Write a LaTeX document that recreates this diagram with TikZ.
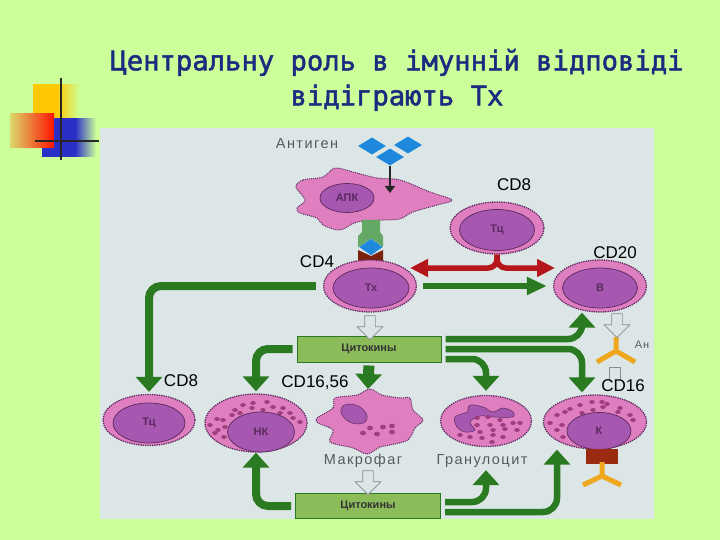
\documentclass[tikz,border=0pt]{standalone}
\usepackage{fontspec}
\setmainfont{Liberation Sans}
\newfontfamily\titlefont[FakeBold=1.8]{DejaVu Sans Mono}
\newfontfamily\capfont[LetterSpace=10]{Liberation Sans}
\usetikzlibrary{arrows.meta, calc, positioning, shapes.geometric, shapes.arrows}

\definecolor{slidebg}{HTML}{CCFF99}
\definecolor{panelbg}{HTML}{DCE6E6}
\definecolor{navy}{HTML}{1C2A80}
\definecolor{cellpink}{HTML}{E07FC0}
\definecolor{nucpurple}{HTML}{A657B0}
\definecolor{rimdark}{HTML}{5A2A5E}
\definecolor{granule}{HTML}{A03E80}
\definecolor{grn}{HTML}{2A7A22}
\definecolor{boxgrn}{HTML}{8CBB5A}
\definecolor{recgrn}{HTML}{64A866}
\definecolor{redarr}{HTML}{B5161A}
\definecolor{bluediam}{HTML}{1E88DC}
\definecolor{orng}{HTML}{EFA81E}
\definecolor{brownred}{HTML}{9A2A10}
\definecolor{sqyellow}{HTML}{FFC800}
\definecolor{sqblue}{HTML}{2A2FC8}

\begin{document}
\begin{tikzpicture}
[
	x=1pt,y=-1pt,
	cell/.style={ellipse,draw=rimdark,densely dotted,line width=1.3,fill=cellpink,inner sep=0},
	nuc/.style={ellipse,draw=rimdark,line width=0.7,fill=nucpurple,inner sep=0,font=\fontsize{11}{11}\selectfont\bfseries,text=rimdark},
	cdlab/.style={font=\fontsize{17}{17}\selectfont},
	caption/.style={font=\capfont\fontsize{14.5}{14.5}\selectfont,text=black!65},
	cyto/.style={rectangle,draw=grn,line width=1,fill=boxgrn,minimum width=144,minimum height=26,font=\fontsize{11}{11}\selectfont\bfseries,text=black!80},
	gr/.style={draw=grn,line width=8,rounded corners=12,-{Triangle[width=26,length=15]}},
	grflat/.style={draw=grn,line width=6.5,rounded corners=14,-{Triangle[width=26,length=15]}},
	grthin/.style={draw=grn,line width=6,-{Triangle[width=17,length=20]}},
	rd/.style={draw=redarr,line width=5.5,rounded corners=9,-{Triangle[width=17,length=18]}},
	hollow/.style={single arrow,draw=black!45,fill=panelbg,shape border rotate=270,inner sep=5,minimum height=24,minimum width=25,single arrow head extend=7.5,line width=0.7},
	diam/.style={diamond,fill=bluediam,inner sep=0,minimum width=28,minimum height=17},
	ab/.style={draw=orng,line width=5,line join=miter},
	gran/.style={fill=granule}
]

\useasboundingbox (0,0) rectangle (720,540);
\fill[slidebg] (0,0) rectangle (720,540);

% corner squares
\shade[left color=sqyellow,right color=slidebg,middle color=sqyellow] (33,85) rectangle (80,120);
\shade[left color=slidebg!70!orange,right color=red!85!orange] (10,114) rectangle (54,148);
\shade[left color=sqblue,right color=slidebg,middle color=sqblue] (54,119) rectangle (96,157);
\fill[sqblue] (42,148) rectangle (60,157);
\draw[line width=2,black!85] (61,78) -- (61,160);
\draw[line width=2,black!85] (35,141) -- (99,141);

\node[align=center,text=navy,font=\titlefont\fontsize{27.2}{35}\selectfont] (title) at (397,80) {Центральну роль в імунній відповіді\\відіграють Тх};

\fill[panelbg] (100,128) rectangle (654,519);

% antigen and APC
\node[caption] (antigen) at (307,144) {Антиген};
\node[diam] (ag1) at (372,146) {};
\node[diam] (ag2) at (408,145) {};
\node[diam] (ag3) at (390,157) {};

\draw[draw=rimdark,densely dotted,line width=1,fill=cellpink] plot[smooth cycle,tension=0.55] coordinates {(296,187) (303,180) (323,177) (335,168) (353,172) (377,178) (400,180) (430,192) (452,200) (437,205) (413,212) (400,219) (383,220) (357,222) (340,230) (323,225) (317,218) (300,213) (297,208) (305,200)};
\node[nuc,minimum width=54,minimum height=29] (apk) at (347,198) {АПК};
\coordinate (apkin) at (390,193);
\draw[line width=1.5,black!85,-{Triangle[width=10,length=7]}] (ag3.south) -- (apkin);

% receptor between APC and Tx
\fill[recgrn] (362,220) -- (380,220) -- (380,232) -- (383,236) -- (383,247) -- (358,247) -- (358,236) -- (362,232) -- cycle;
\fill[brownred!80!black] (358,262) -- (358,250) -- (371,256) -- (383,250) -- (383,262) -- cycle;
\node[diam,draw=white,densely dotted,minimum width=24,minimum height=17] (agtx) at (371,247) {};

% cells
\node[cell,minimum width=94,minimum height=52] (tc) at (497,228) {};
\node[nuc,minimum width=75,minimum height=41] (tcn) at (497,230) {Тц};
\node[cell,minimum width=93,minimum height=52] (tx) at (370,286) {};
\node[nuc,minimum width=76,minimum height=40] (txn) at (371,288) {Тх};
\node[cell,minimum width=93,minimum height=52] (vb) at (600,286) {};
\node[nuc,minimum width=75,minimum height=40] (vbn) at (600,288) {В};
\node[cell,minimum width=92,minimum height=51] (tcl) at (149,420) {};
\node[nuc,minimum width=72,minimum height=40] (tcln) at (149,423) {Тц};
\node[cell,minimum width=102,minimum height=58] (nk) at (256,423) {};
\node[cell,minimum width=91,minimum height=51] (grc) at (486,421) {};
\node[cell,minimum width=103,minimum height=54] (kc) at (595,422) {};

\foreach \gx/\gy in {217/419,210/425,223/420,232/415,243/405,253/403,267/402,240/413,252/408,263/410,273/407,283/408,280/413,290/413,293/418,300/422,218/430,225/427,215/433,224/437,235/410}
	\fill[gran] (\gx,\gy) ellipse (2.8 and 2);
\node[nuc,minimum width=67,minimum height=40] (nkn) at (261,432) {НК};

\foreach \gx/\gy in {570/409,580/405,592/402,582/413,593/410,607/404,620/408,618/412,633/420,630/415,565/412,557/415,550/423,562/425,557/430,563/437,603/407,602/402}
	\fill[gran] (\gx,\gy) ellipse (2.8 and 2);
\node[nuc,minimum width=64,minimum height=37] (kn) at (599,431) {К};

\fill[nucpurple,draw=rimdark,line width=0.5] plot[smooth cycle,tension=0.6] coordinates {(455,417) (467,412) (470,405) (483,407) (493,412) (503,408) (513,412) (512,417) (493,417) (480,416) (470,422) (475,430) (465,432) (457,427)};
\foreach \gx/\gy in {477/418,488/417,500/420,477/425,490/425,503/425,513/423,520/423,480/432,493/430,505/429,517/430,470/437,482/438,493/435,503/437,460/435,492/442}
	\fill[gran] (\gx,\gy) ellipse (2.8 and 2);

% macrophage
\draw[draw=rimdark,densely dotted,line width=1,fill=cellpink] plot[smooth cycle,tension=0.5] coordinates {(317,418) (333,408) (335,398) (357,395) (370,389) (382,395) (400,398) (410,398) (413,410) (423,420) (415,428) (408,440) (390,445) (380,447) (367,454) (353,448) (330,442) (333,430) (318,423)};
\fill[nucpurple,draw=rimdark,line width=0.5,rotate around={-25:(354,414)}] (354,414) ellipse (14 and 9);
\foreach \gx/\gy in {370/428,383/427,363/433,377/434,392/432,392/426}
	\fill[gran] (\gx,\gy) ellipse (3 and 2.4);
\coordinate (mf) at (368,389);
\node[caption] (mftxt) at (363,461) {Макрофаг};
\node[caption] (grtxt) at (482,461) {Гранулоцит};

% antibodies
\draw[ab] (616,337) -- (616,351) -- (597,362);
\draw[ab] (616,351) -- (635,362);
\node[caption,font=\capfont\fontsize{11}{11}\selectfont] (an) at (642,345) {Ан};
\fill[brownred] (586,449) rectangle (618,464);
\draw[ab] (602,462) -- (602,476) -- (583,485);
\draw[ab] (602,476) -- (621,485);

% cytokine boxes
\node[cyto] (cyt1) at (369,349) {Цитокины};
\node[cyto,minimum width=145,minimum height=25] (cyt2) at (368,506) {Цитокины};

% hollow arrows
\node[hollow] (h1) at (370,325) {};
\node[hollow] (h2) at (617,323) {};
\node[hollow] (h3) at (368,480) {};
\draw[line width=0.7,black!45] (609,380) -- (609,367) -- (620,367) -- (620,380);

% connectors
\coordinate (rl) at (410,268);
\coordinate (rr) at (555,268);
\draw[rd] (tc.south) |- (rl);
\draw[rd] (tc.south) |- (rr);

\draw[grthin,shorten <=6,shorten >=6] (tx.east) -- (vb.west);
\draw[gr,shorten <=7,shorten >=2] (tx.west) -| (tcl.north);

\draw[gr,shorten <=4,shorten >=2] (cyt1.west) -| (nk.north);
\draw[gr,line width=11,shorten <=3] (cyt1.south) -- (mf);
\draw[grflat,shorten <=4] ([yshift=10]cyt1.east) -| ([xshift=-18]vb.south);
\draw[grflat,shorten <=4,shorten >=2] (cyt1.east) -| ([xshift=-13]kc.north);
\draw[grflat,shorten <=4,shorten >=4] ([yshift=-10]cyt1.east) -| (grc.north);

\draw[gr,shorten <=4] (cyt2.west) -| (nk.south);
\draw[grflat,shorten <=4,shorten >=23] ([yshift=4]cyt2.east) -| (grc.south);
\draw[grflat,shorten <=4] ([yshift=-6]cyt2.east) -| ([xshift=-38]kc.south);

% surface markers
\node[cdlab] (cd8a) at (514,185) {CD8};
\node[cdlab] (cd4) at (317,262) {CD4};
\node[cdlab] (cd20) at (615,253) {CD20};
\node[cdlab] (cd8b) at (181,381) {CD8};
\node[cdlab] (cd1656) at (315,383) {CD16,56};
\node[cdlab] (cd16) at (623,386) {CD16};

\end{tikzpicture}
\end{document}
